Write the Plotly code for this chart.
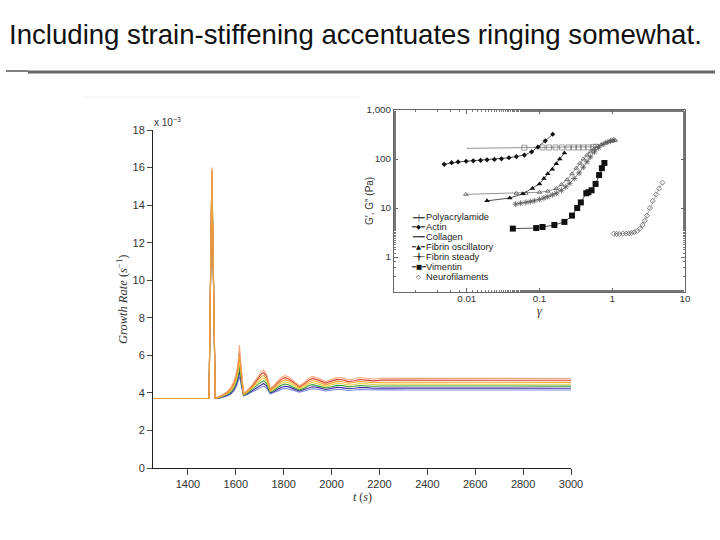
import plotly.graph_objects as go

W, H = 720, 540
def px(x): return x / W
def py(y): return 1 - y / H

# ---------------- main chart data ----------------
t = [1250, 1488, 1500, 1514, 1530, 1546, 1562, 1578, 1592, 1603, 1610, 1615, 1621, 1626, 1632, 1645,
     1660, 1678, 1695, 1708, 1716, 1728, 1737, 1744, 1755, 1772, 1790, 1805, 1822, 1845, 1866, 1885,
     1905, 1920, 1945, 1975, 2000, 2022, 2045, 2070, 2095, 2115, 2145, 2175, 2210, 2260, 2320, 3000]
rate_salmon = [3.7, 3.7, 16.0, 3.72, 3.8, 3.9, 4.05, 4.25, 4.6, 5.1, 5.65, 6.55, 5.5, 4.6, 3.98, 4.1,
               4.3, 4.6, 4.92, 5.15, 5.22, 5.0, 4.6, 4.22, 4.35, 4.6, 4.82, 4.92, 4.85, 4.6, 4.38, 4.55,
               4.78, 4.88, 4.78, 4.6, 4.72, 4.82, 4.8, 4.7, 4.75, 4.82, 4.78, 4.74, 4.78, 4.78, 4.77, 4.77]
rate_red = [3.7, 3.7, 15.9, 3.72, 3.79, 3.88, 4.01, 4.2, 4.52, 4.98, 5.48, 6.27, 5.33, 4.52, 3.96, 4.07,
            4.25, 4.52, 4.81, 5.02, 5.08, 4.88, 4.51, 4.18, 4.29, 4.52, 4.72, 4.81, 4.74, 4.52, 4.32, 4.48,
            4.68, 4.77, 4.68, 4.52, 4.62, 4.72, 4.7, 4.6, 4.65, 4.71, 4.68, 4.64, 4.68, 4.68, 4.67, 4.67]
rate_orange = [3.7, 3.7, 15.8, 3.71, 3.77, 3.85, 3.97, 4.14, 4.43, 4.85, 5.3, 5.99, 5.17, 4.43, 3.93, 4.03,
               4.2, 4.44, 4.7, 4.88, 4.93, 4.75, 4.43, 4.13, 4.23, 4.43, 4.61, 4.69, 4.64, 4.44, 4.27, 4.4,
               4.58, 4.66, 4.58, 4.43, 4.53, 4.61, 4.59, 4.51, 4.55, 4.61, 4.58, 4.54, 4.57, 4.57, 4.56, 4.56]
rate_yellow = [3.7, 3.7, 15.7, 3.71, 3.76, 3.83, 3.94, 4.09, 4.35, 4.73, 5.13, 5.72, 5.0, 4.35, 3.91, 4.0,
               4.15, 4.37, 4.59, 4.75, 4.79, 4.63, 4.34, 4.09, 4.17, 4.35, 4.51, 4.58, 4.53, 4.36, 4.21, 4.33,
               4.49, 4.55, 4.48, 4.35, 4.43, 4.51, 4.49, 4.42, 4.45, 4.5, 4.48, 4.45, 4.47, 4.47, 4.46, 4.46]
rate_green = [3.7, 3.7, 15.6, 3.71, 3.75, 3.81, 3.9, 4.03, 4.27, 4.6, 4.95, 5.44, 4.83, 4.27, 3.89, 3.97,
              4.1, 4.29, 4.48, 4.61, 4.65, 4.51, 4.25, 4.04, 4.11, 4.27, 4.41, 4.47, 4.42, 4.28, 4.15, 4.25,
              4.39, 4.44, 4.38, 4.27, 4.33, 4.4, 4.39, 4.32, 4.35, 4.39, 4.37, 4.35, 4.37, 4.37, 4.36, 4.36]
rate_blue = [3.7, 3.7, 15.5, 3.7, 3.73, 3.78, 3.86, 3.97, 4.18, 4.48, 4.78, 5.16, 4.67, 4.18, 3.86, 3.93,
             4.05, 4.21, 4.37, 4.48, 4.5, 4.38, 4.17, 4.0, 4.05, 4.18, 4.3, 4.35, 4.32, 4.2, 4.1, 4.18,
             4.29, 4.33, 4.28, 4.18, 4.24, 4.3, 4.28, 4.22, 4.25, 4.29, 4.28, 4.25, 4.26, 4.26, 4.25, 4.25]
rate_ltblue = [3.7, 3.7, 15.4, 3.7, 3.72, 3.76, 3.82, 3.92, 4.1, 4.35, 4.6, 4.88, 4.5, 4.1, 3.84, 3.9,
               4.0, 4.13, 4.26, 4.34, 4.36, 4.26, 4.08, 3.95, 3.99, 4.1, 4.2, 4.24, 4.21, 4.12, 4.04, 4.1,
               4.19, 4.22, 4.18, 4.1, 4.14, 4.19, 4.18, 4.13, 4.15, 4.18, 4.17, 4.15, 4.16, 4.16, 4.15, 4.15]

main_series = [
    (rate_ltblue, "#7f86e0"),
    (rate_blue, "#3c2f9e"),
    (rate_green, "#3a9a3a"),
    (rate_yellow, "#e8d040"),
    (rate_red, "#d7402a"),
    (rate_salmon, "#f2a77e"),
    (rate_orange, "#f0a030"),
]
main_yticks = [0, 2, 4, 6, 8, 10, 12, 14, 16, 18]
main_xticks = [1400, 1600, 1800, 2000, 2200, 2400, 2600, 2800, 3000]

# ---------------- inset data ----------------
poly_x = [0.01, 0.062, 0.11, 0.135, 0.166, 0.204, 0.25, 0.295, 0.345, 0.4, 0.47, 0.55, 0.6]
poly_y = [165, 170, 172, 172, 172, 172, 172, 172, 172, 172, 173, 175, 178]
actin_x = [0.0049, 0.0062, 0.0076, 0.0098, 0.0123, 0.0155, 0.019, 0.024, 0.03, 0.038, 0.048, 0.062, 0.078, 0.095, 0.12, 0.152]
actin_y = [78, 84, 87, 90, 92, 94, 96, 98, 101, 106, 112, 120, 140, 175, 235, 320]
coll_x = [0.0097, 0.048, 0.065, 0.1, 0.13, 0.17, 0.2, 0.24, 0.28, 0.32, 0.36, 0.4, 0.45, 0.5, 0.56, 0.63, 0.7, 0.8, 0.9, 1.0, 1.1]
coll_y = [19, 20, 20, 21, 22, 25, 30, 38, 50, 65, 82, 100, 120, 140, 160, 180, 195, 212, 225, 235, 240]
fosc_x = [0.019, 0.039, 0.059, 0.08, 0.1, 0.115, 0.13, 0.15, 0.17, 0.19, 0.22]
fosc_y = [14, 16, 19.5, 25, 31, 40, 50, 62, 80, 100, 133]
fst_x = [0.047, 0.055, 0.065, 0.075, 0.085, 0.1, 0.115, 0.13, 0.15, 0.17, 0.2, 0.23, 0.26, 0.3, 0.35, 0.4, 0.45, 0.5, 0.57, 0.65, 0.75, 0.85, 0.95, 1.05]
fst_y = [12, 12.5, 13, 13.5, 14, 15, 16, 17, 18.5, 20, 23, 27, 32, 40, 52, 68, 88, 110, 140, 170, 200, 220, 235, 245]
vim_x = [0.043, 0.09, 0.11, 0.16, 0.22, 0.28, 0.33, 0.37, 0.44, 0.47, 0.52, 0.59, 0.66, 0.72, 0.78]
vim_y = [3.8, 3.9, 4.1, 4.5, 5.2, 7, 10, 13, 20, 21, 23, 31, 47, 65, 83]
neuro_x = [1.05, 1.15, 1.25, 1.4, 1.55, 1.7, 1.85, 2.0, 2.2, 2.4, 2.6, 2.8, 3.0, 3.3, 3.6, 4.0, 4.4, 4.9]
neuro_y = [3.0, 2.95, 2.95, 3.0, 3.0, 3.05, 3.1, 3.2, 3.4, 3.8, 4.5, 5.5, 7, 10, 14, 19, 25, 33]

inset_xticks = [0.01, 0.1, 1, 10]
inset_xtext = ["0.01", "0.1", "1", "10"]
inset_yticks = [1, 10, 100, 1000]
inset_ytext = ["1", "10", "100", "1,000"]

legend_labels = ["Polyacrylamide", "Actin", "Collagen", "Fibrin oscillatory",
                 "Fibrin steady", "Vimentin", "Neurofilaments"]
legend_syms = ["\u2501\u253f\u2501", "\u2501\u25c6\u2501", "\u2501\u2501\u2501", "\u2501\u25b2\u2501",
               "\u2500\u254b\u2500", "\u2501\u25a0\u2501", "\u25c7"]

fig = go.Figure()

for vals, col in main_series:
    fig.add_trace(go.Scatter(x=t, y=vals, mode="lines", xaxis="x", yaxis="y",
                             line=dict(color=col, width=1.1),
                             showlegend=False, hoverinfo="skip"))

ins_line = dict(color="#777777", width=0.8)
fig.add_trace(go.Scatter(x=poly_x, y=poly_y, mode="lines+markers", xaxis="x2", yaxis="y2",
                         line=ins_line, marker=dict(symbol="square-open", size=[0] + [5] * (len(poly_x) - 1),
                                                    color="#555555", line=dict(width=0.8)), showlegend=False))
fig.add_trace(go.Scatter(x=coll_x, y=coll_y, mode="lines+markers", xaxis="x2", yaxis="y2",
                         line=ins_line, marker=dict(symbol="triangle-up-open", size=4, color="#555555",
                                                    line=dict(width=0.8)), showlegend=False))
fig.add_trace(go.Scatter(x=fst_x, y=fst_y, mode="lines+markers", xaxis="x2", yaxis="y2",
                         line=ins_line, marker=dict(symbol="asterisk-open", size=5, color="#555555",
                                                    line=dict(width=0.8, color="#555555")), showlegend=False))
fig.add_trace(go.Scatter(x=actin_x, y=actin_y, mode="lines+markers", xaxis="x2", yaxis="y2",
                         line=dict(color="#222222", width=0.8), marker=dict(symbol="diamond", size=4, color="#111111"),
                         showlegend=False))
fig.add_trace(go.Scatter(x=fosc_x, y=fosc_y, mode="lines+markers", xaxis="x2", yaxis="y2",
                         line=dict(color="#222222", width=0.8), marker=dict(symbol="triangle-up", size=5, color="#111111"),
                         showlegend=False))
fig.add_trace(go.Scatter(x=vim_x, y=vim_y, mode="lines+markers", xaxis="x2", yaxis="y2",
                         line=dict(color="#222222", width=0.8), marker=dict(symbol="square", size=6, color="#111111"),
                         showlegend=False))
fig.add_trace(go.Scatter(x=neuro_x, y=neuro_y, mode="lines+markers", xaxis="x2", yaxis="y2",
                         line=dict(color="#888888", width=0.6), marker=dict(symbol="diamond-open", size=4, color="#555555",
                                                                            line=dict(width=0.7)), showlegend=False))

tickfont = dict(family="Liberation Sans, Arial, sans-serif", size=11, color="#333333")
insfont = dict(family="Liberation Sans, Arial, sans-serif", size=9.8, color="#333333")

fig.update_layout(
    autosize=True, margin=dict(l=0, r=0, t=0, b=0, autoexpand=False),
    paper_bgcolor="white", plot_bgcolor="rgba(0,0,0,0)",
    showlegend=False,
    xaxis=dict(domain=[px(153), px(571)], range=[1254, 3000], tickvals=main_xticks,
               showgrid=False, zeroline=False, showline=True, linecolor="#222222", linewidth=1,
               ticks="outside", ticklen=6, tickcolor="#444444", tickfont=tickfont, anchor="y"),
    yaxis=dict(domain=[py(468), py(130)], range=[0, 18], tickvals=main_yticks,
               showgrid=False, zeroline=False, showline=True, linecolor="#222222", linewidth=1,
               ticks="outside", ticklen=5, tickcolor="#444444", tickfont=tickfont, anchor="x"),
    xaxis2=dict(domain=[px(394), px(685)], type="log", range=[-3, 1], tickvals=inset_xticks,
                ticktext=inset_xtext, showgrid=False, zeroline=False, showline=True, mirror="allticks",
                linecolor="#666666", linewidth=1, ticks="inside", ticklen=4, tickcolor="#666666",
                minor=dict(ticks="inside", ticklen=2, tickcolor="#777777", showgrid=False),
                ticklabelstandoff=-3, tickfont=insfont, anchor="y2"),
    yaxis2=dict(domain=[py(292), py(110)], type="log", range=[-0.714, 3], tickvals=inset_yticks,
                ticktext=inset_ytext, showgrid=False, zeroline=False, showline=True, mirror="allticks",
                linecolor="#666666", linewidth=1, ticks="inside", ticklen=4, tickcolor="#666666",
                minor=dict(ticks="inside", ticklen=2, tickcolor="#777777", showgrid=False),
                tickfont=insfont, anchor="x2"),
)

ann = []
ann.append(dict(x=px(7), y=py(34), xref="paper", yref="paper", xanchor="left", yanchor="middle",
                text="Including strain-stiffening accentuates ringing somewhat.", showarrow=False,
                font=dict(family="Liberation Sans, Arial, sans-serif", size=27.6, color="#111111")))
ann.append(dict(x=px(152), y=py(122), xref="paper", yref="paper", xanchor="left", yanchor="middle",
                text="x 10<sup>\u22123</sup>", showarrow=False,
                font=dict(family="Liberation Sans, Arial, sans-serif", size=10, color="#333333")))
ann.append(dict(x=px(122), y=py(300), xref="paper", yref="paper", xanchor="center", yanchor="middle",
                text="<i>Growth Rate</i> (<i>s</i><sup>\u22121</sup>)", textangle=-90, showarrow=False,
                font=dict(family="Liberation Serif, Times New Roman, serif", size=12.5, color="#333333")))
ann.append(dict(x=px(362), y=py(497), xref="paper", yref="paper", xanchor="center", yanchor="middle",
                text="<i>t</i> (<i>s</i>)", showarrow=False,
                font=dict(family="Liberation Serif, Times New Roman, serif", size=12, color="#333333")))
ann.append(dict(x=px(369), y=py(201), xref="paper", yref="paper", xanchor="center", yanchor="middle",
                text="G\u2032, G\u2033 (Pa)", textangle=-90, showarrow=False,
                font=dict(family="Liberation Sans, Arial, sans-serif", size=10, color="#333333")))
ann.append(dict(x=px(539), y=py(311), xref="paper", yref="paper", xanchor="center", yanchor="middle",
                text="<i>\u03b3</i>", showarrow=False,
                font=dict(family="Liberation Serif, Times New Roman, serif", size=12, color="#333333")))
for i, (sym, lab) in enumerate(zip(legend_syms, legend_labels)):
    yy = py(217 + i * 10.0)
    ann.append(dict(x=px(418), y=yy, xref="paper", yref="paper", xanchor="center",
                    yanchor="middle", text=sym, showarrow=False, borderpad=0,
                    font=dict(family="DejaVu Sans, sans-serif", size=6.5, color="#111111")))
    ann.append(dict(x=px(425), y=yy, xref="paper", yref="paper", xanchor="left",
                    yanchor="middle", text=lab, showarrow=False, borderpad=0,
                    font=dict(family="Liberation Sans, Arial, sans-serif", size=9.3, color="#222222")))
fig.update_layout(annotations=ann)

fig.update_layout(shapes=[
    dict(type="line", xref="paper", yref="paper", x0=px(6), x1=px(28), y0=py(71), y1=py(71),
         line=dict(color="#555555", width=1.5)),
    dict(type="line", xref="paper", yref="paper", x0=px(28), x1=px(715), y0=py(72), y1=py(72),
         line=dict(color="#666666", width=3)),
    dict(type="line", xref="paper", yref="paper", x0=px(85), x1=px(360), y0=py(97), y1=py(97),
         line=dict(color="#eeeeee", width=1), layer="below"),
])

fig.write_html("out.html", config={"displayModeBar": False, "responsive": True},
               default_width="100vw", default_height="100vh",
               post_script=("document.body.style.margin='0';document.body.style.overflow='hidden';"
                            "document.documentElement.style.overflow='hidden';"))
